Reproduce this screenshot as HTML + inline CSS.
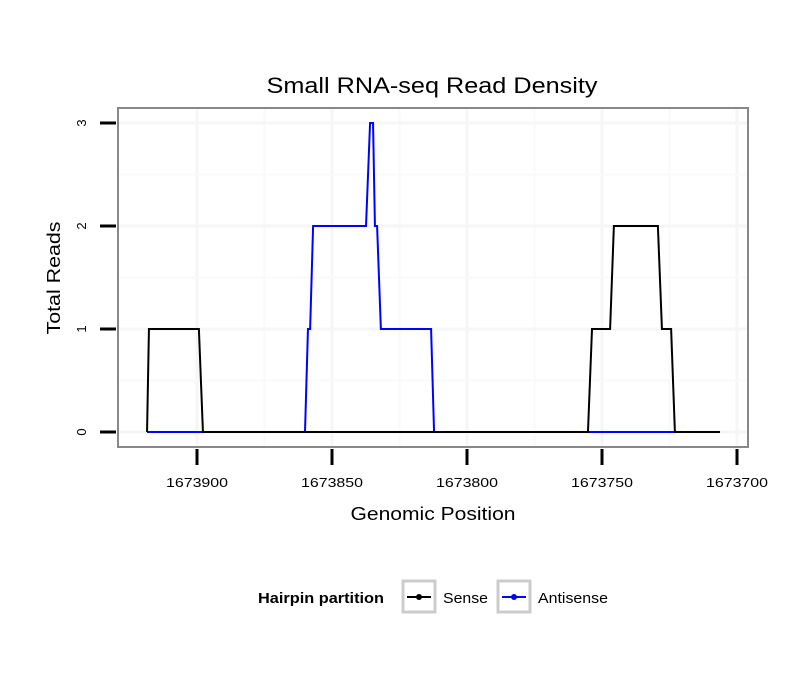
<!DOCTYPE html>
<html><head><meta charset="utf-8"><style>
body{margin:0;background:#fff;font-family:"Liberation Sans",sans-serif}
</style></head><body>
<svg id="c" width="810" height="690" xmlns="http://www.w3.org/2000/svg" font-family="Liberation Sans, sans-serif">
<rect width="810" height="690" fill="#fff"/>
<text x="432" y="93" font-size="22" text-anchor="middle" textLength="331" lengthAdjust="spacingAndGlyphs">Small RNA-seq Read Density</text>
<g id="grid"></g>
<g id="series"></g>
<rect x="118" y="108" width="630" height="339" fill="none" stroke="#888" stroke-width="2"/>
<g id="axes"></g>
<text x="433" y="520" font-size="18" text-anchor="middle" textLength="165" lengthAdjust="spacingAndGlyphs">Genomic Position</text>
<text transform="translate(60,278) rotate(-90)" font-size="18" text-anchor="middle" textLength="113" lengthAdjust="spacingAndGlyphs">Total Reads</text>
<g>
<text x="258" y="603" font-size="15" font-weight="bold" textLength="126" lengthAdjust="spacingAndGlyphs">Hairpin partition</text>
<g>
<rect x="403" y="581" width="32" height="31" fill="#fff" stroke="#ccc" stroke-width="3"/>
<line x1="407" y1="597" x2="431" y2="597" stroke="#000" stroke-width="2"/><circle cx="419" cy="597" r="3" fill="#000"/>
<text x="443" y="603" font-size="15" textLength="45" lengthAdjust="spacingAndGlyphs">Sense</text></g>
<g>
<rect x="498" y="581" width="32" height="31" fill="#fff" stroke="#ccc" stroke-width="3"/>
<line x1="502" y1="597" x2="526" y2="597" stroke="#00f" stroke-width="2"/><circle cx="514" cy="597" r="3" fill="#00f"/>
<text x="538" y="603" font-size="15" textLength="70" lengthAdjust="spacingAndGlyphs">Antisense</text></g>
</g>
</svg>
<script>
const xTicks=[1673900,1673850,1673800,1673750,1673700];
const yTicks=[0,1,2,3];
const senseX=[1673918.5,1673917.8,1673899.3,1673897.8,1673755.2,1673753.7,1673747,1673745.6,1673729.3,1673727.8,1673724.4,1673723,1673706.3];
const senseY=[0,1,1,0,0,1,1,2,2,1,1,0,0];
const antiX=[1673918.5,1673860,1673858.9,1673858.1,1673857,1673837.4,1673835.9,1673834.8,1673834.1,1673833.3,1673831.9,1673813.3,1673812.2,1673706.3];
const antiY=[0,0,1,1,2,2,3,3,2,2,1,1,0,0];
const NS="http://www.w3.org/2000/svg";
function xs(v){return 197+(1673900-v)*2.7;}
function ys(v){return 432-v*103;}
function mk(t,a,p){const e=document.createElementNS(NS,t);for(const k in a)e.setAttribute(k,a[k]);p.appendChild(e);return e;}
const grid=document.getElementById('grid'),axes=document.getElementById('axes'),ser=document.getElementById('series');
mk('rect',{x:118,y:108,width:630,height:339,fill:'#fff'},grid);
for(let i=0;i<xTicks.length;i++){
 const x=xs(xTicks[i]);
 const g=mk('line',{x1:x,y1:108,x2:x,y2:447,stroke:'#f6f6f6','stroke-width':3},grid);
 
 
 if(i<xTicks.length-1){const xm=xs((xTicks[i]+xTicks[i+1])/2);mk('line',{x1:xm,y1:108,x2:xm,y2:447,stroke:'#fafafa','stroke-width':2},grid);}
 const t=mk('line',{x1:x,y1:449,x2:x,y2:465,stroke:'#000','stroke-width':3},axes);
 
 
 const l=mk('text',{x:x,y:487,'font-size':13,'text-anchor':'middle',textLength:62,lengthAdjust:'spacingAndGlyphs'},axes);l.textContent=xTicks[i];
 
 
}
for(let i=0;i<yTicks.length;i++){
 const y=ys(yTicks[i]);
 mk('line',{x1:118,y1:y,x2:748,y2:y,stroke:'#f6f6f6','stroke-width':3},grid);
 if(i<yTicks.length-1){const ym=ys((yTicks[i]+yTicks[i+1])/2);mk('line',{x1:118,y1:ym,x2:748,y2:ym,stroke:'#fafafa','stroke-width':2},grid);}
 const t=mk('line',{x1:100,y1:y,x2:116,y2:y,stroke:'#000','stroke-width':3},axes);
 
 
 const l=mk('text',{transform:`translate(86,${y}) rotate(-90)`,'font-size':13,'text-anchor':'middle'},axes);l.textContent=yTicks[i];
 
 
}
function line(X,Y,c,name){
 const p=mk('polyline',{points:X.map((v,i)=>xs(v)+','+ys(Y[i])).join(' '),fill:'none',stroke:c,'stroke-width':2},ser);
 
 
}
line(antiX,antiY,'#00f','antisense-line');
line(senseX,senseY,'#000','sense-line');
</script>
</body></html>
